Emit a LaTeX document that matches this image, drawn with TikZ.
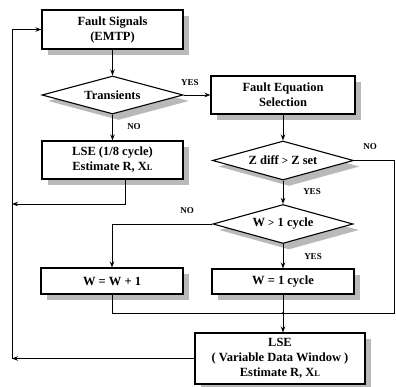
\documentclass[tikz,border=0pt]{standalone}
\usepackage{fontspec}
\setmainfont{Liberation Serif}
\usetikzlibrary{shapes.geometric,arrows.meta,shadows}
\newcommand{\XL}{X{\fontsize{8.5}{8.5}\selectfont L}}
\begin{document}
\begin{tikzpicture}[x=1pt,y=-1pt,
  every node/.style={font=\fontsize{12.5}{15}\selectfont\bfseries, align=center},
  shad/.style={drop shadow={shadow xshift=6pt, shadow yshift=-6pt, fill=gray!55, opacity=1}},
  box/.style={draw, line width=1.1pt, fill=white, rectangle, inner sep=0pt, shad},
  dia/.style={draw, line width=1.1pt, fill=white, diamond, inner sep=0pt, shape aspect=3.7, shad},
  lbl/.style={font=\fontsize{9}{9}\selectfont\bfseries},
  con/.style={line width=1pt},
  arr/.style={con, -{Stealth[length=6pt,width=4.5pt]}}
]
\useasboundingbox (0,0) rectangle (396,386);
\node[box, minimum width=141pt, minimum height=39pt] (fs) at (112.5,29.5) {Fault Signals\\(EMTP)};
\node[dia, minimum width=141pt, minimum height=38pt] (tr) at (112.5,95) {Transients};
\node[box, minimum width=144pt, minimum height=38pt] (fe) at (283,95) {Fault Equation\\Selection};
\node[box, minimum width=141pt, minimum height=38pt] (l1) at (112.5,160) {LSE (1/8 cycle)\\Estimate R, \XL};
\node[dia, minimum width=141pt, minimum height=39pt] (zd) at (283,160.5) {Z diff {\fontsize{11}{11}\selectfont>} Z set};
\node[dia, minimum width=140pt, minimum height=39pt] (wg) at (283,224) {W {\fontsize{11}{11}\selectfont>} 1 cycle};
\node[box, minimum width=142pt, minimum height=26pt] (w1) at (112,281) {W = W + 1};
\node[box, minimum width=142pt, minimum height=25pt] (wc) at (283,281.5) {W = 1 cycle};
\node[box, minimum width=170pt, minimum height=51pt] (l2) at (280,358.5) {LSE\\( Variable Data Window )\\Estimate R, \XL};

\coordinate (L1) at (12,204);
\coordinate (L2) at (12,358.5);
\coordinate (LT) at (12,29.5);
\coordinate (R1) at (394,160.5);
\coordinate (R2) at (394,313);
\coordinate (J) at (283,313);

\draw[arr] (fs) -- (tr);
\draw[arr] (tr.east) -- (fe.west);
\node[lbl] at (190,83) {YES};
\draw[arr] (tr) -- (l1);
\node[lbl] at (134,127) {NO};
\draw[arr] ([xshift=13pt]l1.south) |- (L1);
\draw[arr] (fe) -- (zd);
\draw[con] (zd.east) -- (R1) -- (R2) -- (J);
\node[lbl] at (370,147) {NO};
\draw[arr] (zd) -- (wg);
\node[lbl] at (312,192) {YES};
\draw[arr] (wg.west) -| (w1.north);
\node[lbl] at (187,211) {NO};
\draw[arr] (wg) -- (wc);
\node[lbl] at (313,257) {YES};
\draw[con] (w1.south) |- (J);
\draw[arr] (wc.south) -- (wc.south |- l2.north);
\fill (J) circle (1.2pt);
\draw[arr] (l2.west) -- (L2);
\draw[arr] (L2) -- (LT) -- (fs.west);
\end{tikzpicture}
\end{document}
